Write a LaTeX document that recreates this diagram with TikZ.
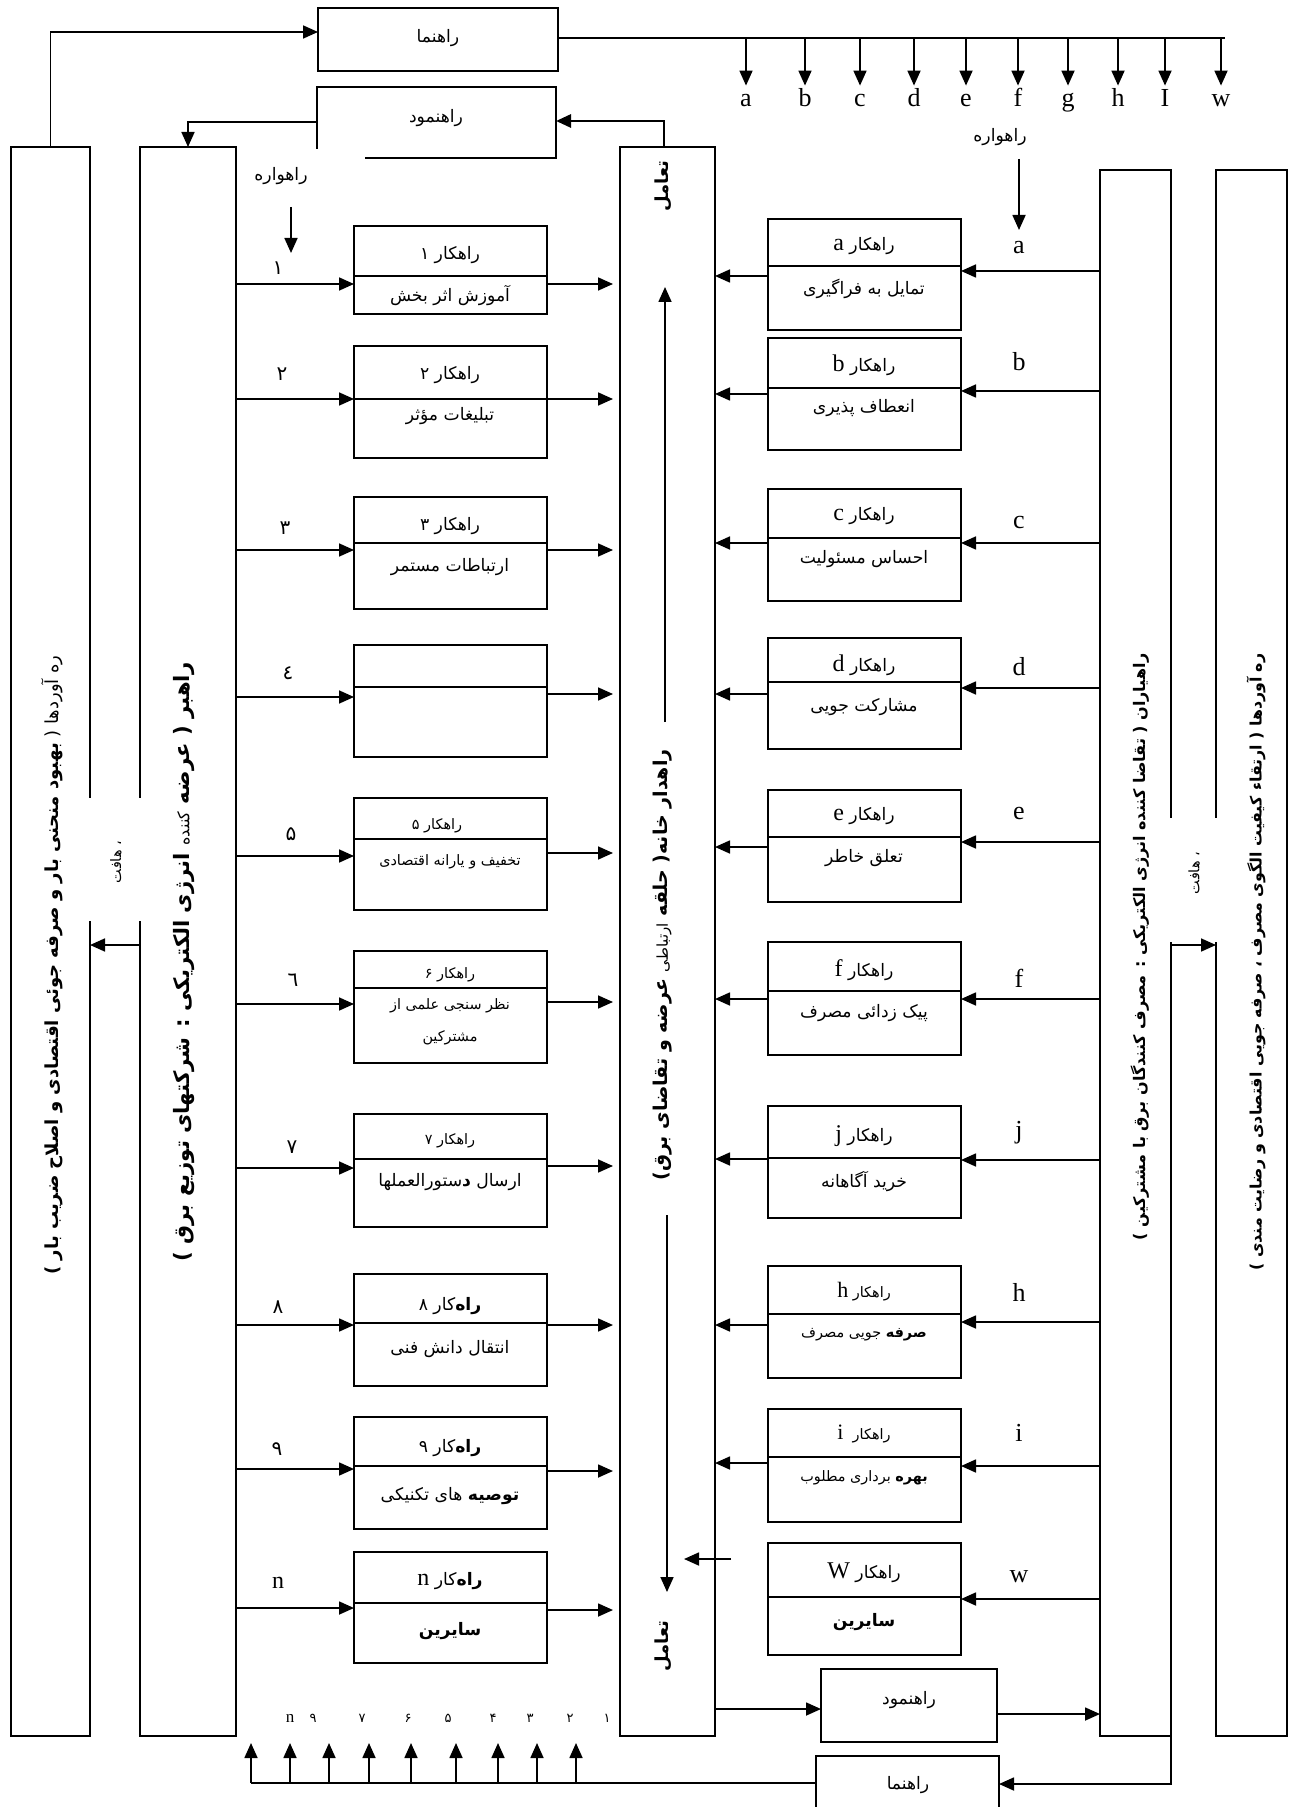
\documentclass[tikz,border=0pt]{standalone}
\usepackage{fontspec}
\setmainfont{Liberation Serif}
\newfontfamily\fa[Script=Arabic]{DejaVu Sans}
\TeXXeTstate=1
\usetikzlibrary{arrows.meta}
\newcommand\FA[1]{{\fa\beginR#1\endR}}
\newcommand\la[1]{{\rmfamily #1}}
\tikzset{
  boxsty/.style={draw, line width=1pt, inner sep=0pt, outer sep=0pt, anchor=north west},
  boxline/.style={line width=0.9pt},
  link/.style={line width=0.85pt},
  arr/.style={link, -{Triangle[length=7.5pt,width=6.5pt]}},
  fa8/.style={inner sep=0pt, font=\fontsize{8.6}{10}\selectfont},
  fa7/.style={inner sep=0pt, font=\fontsize{7.2}{9}\selectfont},
  fa6/.style={inner sep=0pt, font=\fontsize{6.5}{8}\selectfont},
  num/.style={inner sep=0pt, font=\fontsize{10}{12}\selectfont},
  lat/.style={inner sep=0pt, font=\fontsize{13}{15}\selectfont},
  vert/.style={inner sep=0pt, rotate=90, font=\fontsize{9}{11}\selectfont},
}
% rectangle node given by its corners (in px)
\newcommand\mkbox[5]{\node[boxsty, minimum width={(#4-#2)*0.5pt}, minimum height={(#5-#3)*0.5pt}] (#1) at (#2,#3) {};}
% strategy boxes: name, top, divider, bottom
\newcommand\lbox[4]{\mkbox{#1}{354}{#2}{547}{#4}\draw[boxline] (#1.west |- 0,#3) -- (#1.east |- 0,#3);}
\newcommand\rbox[4]{\mkbox{#1}{768}{#2}{961}{#4}\draw[boxline] (#1.west |- 0,#3) -- (#1.east |- 0,#3);}

\begin{document}
\begin{tikzpicture}[x=0.5pt,y=-0.5pt]
\useasboundingbox (0,0) rectangle (1289,1807);

% ---- tall columns ----
\mkbox{bar1}{11}{147}{90}{1736}
\mkbox{bar2}{140}{147}{236}{1736}
\mkbox{bar3}{620}{147}{715}{1736}
\mkbox{bar4}{1100}{170}{1171}{1736}
\mkbox{bar5}{1216}{170}{1287}{1736}

% ---- guide / report boxes ----
\mkbox{guideT}{318}{8}{558}{71}
\mkbox{reportT}{317}{87}{556}{158}
\mkbox{reportB}{821}{1669}{997}{1742}
\mkbox{guideB}{816}{1756}{999}{1812}
\node[fa8] (gT) at (438,38) {\FA{راهنما}};
\node[fa8] (rT) at (436,118) {\FA{راهنمود}};
\node[fa8] (rB) at (909,1700) {\FA{راهنمود}};
\node[fa8] (gB) at (908,1785) {\FA{راهنما}};

% ---- left strategy boxes ----
\lbox{b1}{226}{276}{314}
\lbox{b2}{346}{399}{458}
\lbox{b3}{497}{543}{609}
\lbox{b4}{645}{687}{757}
\lbox{b5}{798}{839}{910}
\lbox{b6}{951}{988}{1063}
\lbox{b7}{1114}{1159}{1227}
\lbox{b8}{1274}{1323}{1386}
\lbox{b9}{1417}{1466}{1529}
\lbox{bn}{1552}{1603}{1663}

\node[fa8] (t1h) at (450,255) {\FA{راهکار ۱}};
\node[fa8] (t1b) at (450,296) {\FA{آموزش اثر بخش}};
\node[fa8] (t2h) at (450,375) {\FA{راهکار ۲}};
\node[fa8] (t2b) at (450,416) {\FA{تبلیغات مؤثر}};
\node[fa8] (t3h) at (450,526) {\FA{راهکار ۳}};
\node[fa8] (t3b) at (450,567) {\FA{ارتباطات مستمر}};
\node[fa7] (t5h) at (437,826) {\FA{راهکار ۵}};
\node[fa7] (t5b) at (450,862) {\FA{تخفیف و یارانه اقتصادی}};
\node[fa7] (t6h) at (450,975) {\FA{راهکار ۶}};
\node[fa7] (t6b) at (450,1006) {\FA{نظر سنجی علمی از}};
\node[fa7] (t6c) at (450,1038) {\FA{مشترکین}};
\node[fa7] (t7h) at (450,1141) {\FA{راهکار ۷}};
\node[fa8] (t7b) at (450,1182) {\FA{ارسال {\bfseries د}ستورالعملها}};
\node[fa8] (t8h) at (450,1306) {\FA{{\bfseries راه}کار ۸}};
\node[fa8] (t8b) at (450,1349) {\FA{انتقال دانش فنی}};
\node[fa8] (t9h) at (450,1448) {\FA{{\bfseries راه}کار ۹}};
\node[fa8] (t9b) at (450,1496) {\FA{{\bfseries توصیه} های تکنیکی}};
\node[fa8] (tnh) at (450,1581) {\FA{{\bfseries راه}کار \la{\fontsize{12}{14}\selectfont n}}};
\node[fa8] (tnb) at (450,1631) {\FA{\bfseries سایرین}};

% ---- right strategy boxes ----
\rbox{ra}{219}{266}{330}
\rbox{rb}{338}{388}{450}
\rbox{rc}{489}{538}{601}
\rbox{rd}{638}{682}{749}
\rbox{re}{790}{837}{902}
\rbox{rf}{942}{991}{1055}
\rbox{rj}{1106}{1158}{1218}
\rbox{rh}{1266}{1314}{1378}
\rbox{ri}{1409}{1457}{1522}
\rbox{rw}{1543}{1597}{1655}

\newcommand\hd[1]{\FA{راهکار \la{\fontsize{12}{14}\selectfont #1}}}
\node[fa8] (tah) at (864,246) {\hd{a}};
\node[fa8] (tab) at (864,289) {\FA{تمایل به فراگیری}};
\node[fa8] (tbh) at (864,365) {\hd{b}};
\node[fa8] (tbb) at (864,408) {\FA{انعطاف پذیری}};
\node[fa8] (tch) at (864,516) {\hd{c}};
\node[fa8] (tcb) at (864,559) {\FA{احساس مسئولیت}};
\node[fa8] (tdh) at (864,665) {\hd{d}};
\node[fa8] (tdb) at (864,707) {\FA{مشارکت جویی}};
\node[fa8] (teh) at (864,816) {\hd{e}};
\node[fa8] (teb) at (864,858) {\FA{تعلق خاطر}};
\node[fa8] (tfh) at (864,970) {\hd{f}};
\node[fa8] (tfb) at (864,1013) {\FA{پیک زدائی مصرف}};
\node[fa8] (tjh) at (864,1136) {\hd{j}};
\node[fa8] (tjb) at (864,1182) {\FA{خرید آگاهانه}};
\node[fa7] (thh) at (864,1292) {\FA{راهکار \la{\fontsize{11}{13}\selectfont h}}};
\node[fa7] (thb) at (864,1335) {\FA{{\bfseries صرفه} جویی مصرف}};
\node[fa7] (tih) at (864,1434) {\FA{راهکار \ \la{\fontsize{11}{13}\selectfont i}}};
\node[fa7] (tib) at (864,1478) {\FA{{\bfseries بهره} برداری مطلوب}};
\node[fa8] (twh) at (864,1573) {\hd{W}};
\node[fa8] (twb) at (864,1622) {\FA{\bfseries سایرین}};

% ---- left inputs and outputs ----
\foreach \n/\yi/\yo in {b1/284/284, b2/399/399, b3/550/550, b4/697/694, b5/856/853,
    b6/1004/1002, b7/1168/1166, b8/1325/1325, b9/1469/1471, bn/1608/1610} {
  \draw[arr] (bar2.east |- 0,\yi) -- (\n.west |- 0,\yi);
  \draw[arr, shorten >=3.5pt] (\n.east |- 0,\yo) -- (bar3.west |- 0,\yo);
}
\node[num] (n1) at (278,268) {\FA{۱}};
\node[num] (n2) at (282,374) {\FA{۲}};
\node[num] (n3) at (285,528) {\FA{۳}};
\node[num] (n4) at (288,673) {\FA{٤}};
\node[num] (n5) at (291,834) {\FA{۵}};
\node[num] (n6) at (293,980) {\FA{٦}};
\node[num] (n7) at (292,1147) {\FA{۷}};
\node[num] (n8) at (278,1307) {\FA{۸}};
\node[num] (n9) at (277,1449) {\FA{۹}};
\node[lat, font=\fontsize{12}{14}\selectfont] (nn) at (278,1583) {n};

% ---- right inputs and outputs ----
\foreach \n/\yi/\yo in {ra/271/276, rb/391/394, rc/543/543, rd/688/694, re/842/847,
    rf/999/999, rj/1160/1159, rh/1322/1325, ri/1466/1463} {
  \draw[arr] (bar4.west |- 0,\yi) -- (\n.east |- 0,\yi);
  \draw[arr] (\n.west |- 0,\yo) -- (bar3.east |- 0,\yo);
}
\draw[arr] (bar4.west |- 0,1599) -- (rw.east |- 0,1599);
\coordinate (wOutA) at (731,1559);
\coordinate (wOutB) at (684,1559);
\draw[arr] (wOutA) -- (wOutB);

\foreach \l/\y in {a/248, b/362, c/523, d/667, e/813, f/978, j/1133, h/1292, i/1433, w/1577} {
  \node[lat] (lab\l) at (1019,\y) {\l};
}

% ---- top guide line with taps a..w ----
\coordinate (busT) at (1225,38);
\draw[link] (guideT.east |- busT) -- (busT);
\foreach \x/\l in {746/a, 805/b, 860/c, 914/d, 966/e, 1018/f, 1068/g, 1118/h, 1165/I, 1221/w} {
  \node[lat, anchor=base, text height=9pt] (top\l) at (\x,107) {\l};
  \draw[arr, shorten >=1.5pt] (top\l.north |- busT) -- (top\l.north);
}

% ---- feedback loops at the top ----
\draw[arr] (bar1.north) |- (guideT.west |- 0,32);
\draw[arr, line width=1.4pt] (bar3.north -| 664,0) |- (reportT.east |- 0,121);
\draw[arr] (reportT.west |- 0,122) -| (bar2.north -| 188,0);

% label patch over the corner of the report box
\fill[white] (237,149) rectangle (365,200);
\node[fa8] (rvL) at (281,176) {\FA{راهواره}};
\coordinate (rvLa) at (291,207);
\coordinate (rvLb) at (291,253);
\draw[arr] (rvLa) -- (rvLb);
\node[fa8] (rvR) at (1000,137) {\FA{راهواره}};
\coordinate (rvRa) at (1019,159);
\coordinate (rvRb) at (1019,230);
\draw[arr] (rvRa) -- (rvRb);

% ---- goal links between the outer columns ----
\fill[white] (88,798) rectangle (142,921);
\node[fa7, rotate=90] (goalL) at (116,862) {\FA{، هافت}};
\draw[arr] (bar2.west |- 0,945) -- (bar1.east |- 0,945);
\fill[white] (1169,818) rectangle (1219,942);
\node[fa7, rotate=90] (goalR) at (1194,873) {\FA{، هافت}};
\draw[arr] (bar4.east |- 0,945) -- (bar5.west |- 0,945);

% ---- interaction flow inside the central column ----
\node[vert, font=\fontsize{9}{11}\selectfont\bfseries] (inTop) at (663,186) {\FA{تعامل}};
\node[vert, font=\fontsize{9}{11}\selectfont\bfseries] (inBot) at (663,1646) {\FA{تعامل}};
\coordinate (upA) at (665,722);
\coordinate (upB) at (665,287);
\draw[arr] (upA) -- (upB);
\coordinate (dnA) at (667,1215);
\coordinate (dnB) at (667,1592);
\draw[arr] (dnA) -- (dnB);

% ---- column titles ----
\node[vert] (ttl1) at (52,965) {\FA{ره آوردها ( {\bfseries بهبود منحنی بار و صرفه جوئی اقتصادی و اصلاح ضریب بار )}}};
\node[vert, font=\fontsize{10.6}{12}\selectfont\bfseries] (ttl2) at (184,962) {\FA{راهبر ( عرضه {\mdseries\fontsize{8}{9}\selectfont کننده} انرژی الکتریکی : شرکتهای توزیع برق )}};
\node[vert, font=\fontsize{9.5}{11}\selectfont\bfseries] (ttl3) at (663,965) {\FA{راهدار خانه( حلقه {\mdseries\fontsize{7.5}{9}\selectfont ارتباطی} عرضه و تقاضای برق)}};
\node[vert, font=\fontsize{8}{10}\selectfont\bfseries] (ttl4) at (1140,947) {\FA{راهیاران ( تقاضا کننده انرژی الکتریکی : مصرف کنندگان برق با مشترکین )}};
\node[vert, font=\fontsize{7.9}{10}\selectfont\bfseries] (ttl5) at (1256,962) {\FA{ره آوردها ( ارتقاء کیفیت الگوی مصرف ، صرفه جویی اقتصادی و رضایت مندی )}};

% ---- bottom: report and guide loops ----
\draw[arr] (bar3.east |- 0,1709) -- (reportB.west |- 0,1709);
\draw[arr] (reportB.east |- 0,1714) -- (bar4.west |- 0,1714);
\draw[arr] (bar4.south east) |- (guideB.east);
\coordinate (busB) at (251,1783);
\draw[link] (guideB.west |- busB) -- (busB);
\foreach \x [count=\k] in {251, 290, 329, 369, 411, 456, 498, 537, 576} {
  \coordinate (up\k) at (\x,1743);
  \draw[arr] (up\k |- busB) -- (up\k);
}
\foreach \x/\t [count=\k] in {313/۹, 362/۷, 408/۶, 448/۵, 493/۴, 530/۳, 570/۲, 607/۱} {
  \node[fa6] (bl\k) at (\x,1718) {\FA{\t}};
}
\node[lat, font=\fontsize{8.5}{10}\selectfont] (bln) at (290,1718) {n};
\end{tikzpicture}
\end{document}
